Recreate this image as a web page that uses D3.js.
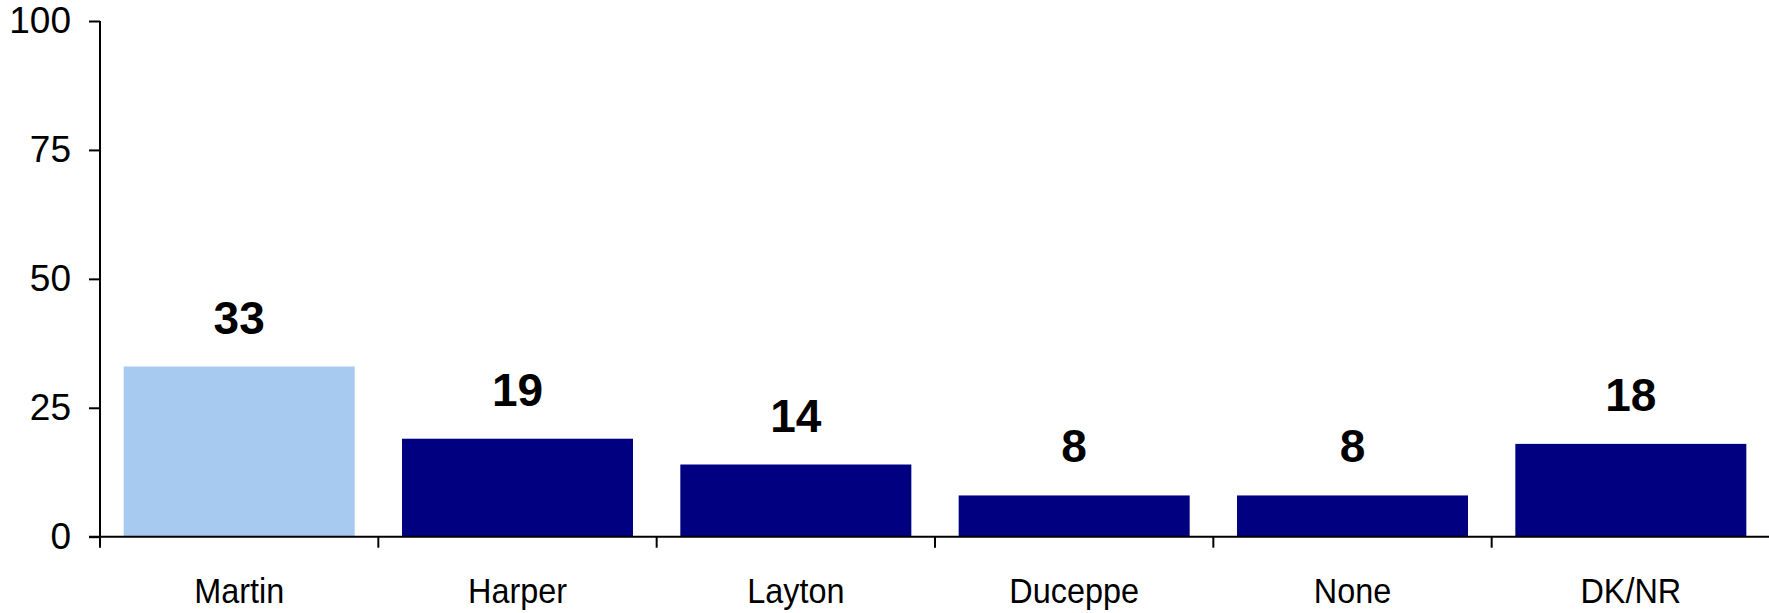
<!DOCTYPE html>
<html>
<head>
<meta charset="utf-8">
<script src="https://cdn.jsdelivr.net/npm/d3@7"></script>
<style>
  html, body { margin: 0; padding: 0; background: #fff; }
  svg { display: block; }
  text { font-family: "Liberation Sans", Arial, sans-serif; fill: #000; }
</style>
</head>
<body>
<svg id="chart" width="1769" height="613"></svg>
<script>
const categories = ["Martin", "Harper", "Layton", "Duceppe", "None", "DK/NR"];
const values = [33, 19, 14, 8, 8, 18];
const barColors = ["#A6CAF0", "#000080", "#000080", "#000080", "#000080", "#000080"];
const yTicks = [0, 25, 50, 75, 100];

const svg = d3.select("#chart");
const mLeft = 100, mRight = 1770, mTop = 21, mBottom = 536.7;

const x = d3.scaleBand().domain(categories).range([mLeft, mRight])
  .paddingInner(0.17).paddingOuter(0.085);
const y = d3.scaleLinear().domain([0, 100]).range([mBottom, mTop]);

// bars
svg.append("g").selectAll("rect").data(categories).join("rect")
  .attr("x", d => x(d))
  .attr("width", x.bandwidth())
  .attr("y", (d, i) => y(values[i]))
  .attr("height", (d, i) => y(0) - y(values[i]))
  .attr("fill", (d, i) => barColors[i]);

// value labels
svg.append("g").selectAll("text").data(categories).join("text")
  .attr("x", d => x(d) + x.bandwidth() / 2)
  .attr("y", (d, i) => y(values[i]) - 33)
  .attr("text-anchor", "middle")
  .style("font-size", "46px")
  .style("font-weight", "bold")
  .text((d, i) => values[i]);

// y axis
const yAxis = svg.append("g").attr("transform", `translate(${mLeft},0)`)
  .call(d3.axisLeft(y).tickValues(yTicks).tickSize(11).tickPadding(18));
yAxis.select(".domain").remove();
yAxis.selectAll("line").attr("stroke", "#000").attr("stroke-width", 2);
yAxis.selectAll("text").style("font-size", "37px").attr("fill", "#000")
  .style("font-family", "'Liberation Sans', Arial, sans-serif");
svg.append("line").attr("x1", mLeft).attr("x2", mLeft)
  .attr("y1", y(100)).attr("y2", y(0) + 11)
  .attr("stroke", "#000").attr("stroke-width", 2);

// x axis line
svg.append("line").attr("x1", mLeft - 11).attr("x2", mRight)
  .attr("y1", y(0)).attr("y2", y(0))
  .attr("stroke", "#000").attr("stroke-width", 2);

// x boundary ticks
const boundaries = d3.range(categories.length + 1).map(i => mLeft + i * x.step());
svg.append("g").selectAll("line").data(boundaries.slice(1)).join("line")
  .attr("x1", d => d).attr("x2", d => d)
  .attr("y1", y(0)).attr("y2", y(0) + 11)
  .attr("stroke", "#000").attr("stroke-width", 2);

// category labels
svg.append("g").selectAll("text").data(categories).join("text")
  .attr("transform", d => `translate(${x(d) + x.bandwidth() / 2},603) scale(0.9,1)`)
  .attr("text-anchor", "middle")
  .style("font-size", "36px")
  .text(d => d);
</script>
</body>
</html>
